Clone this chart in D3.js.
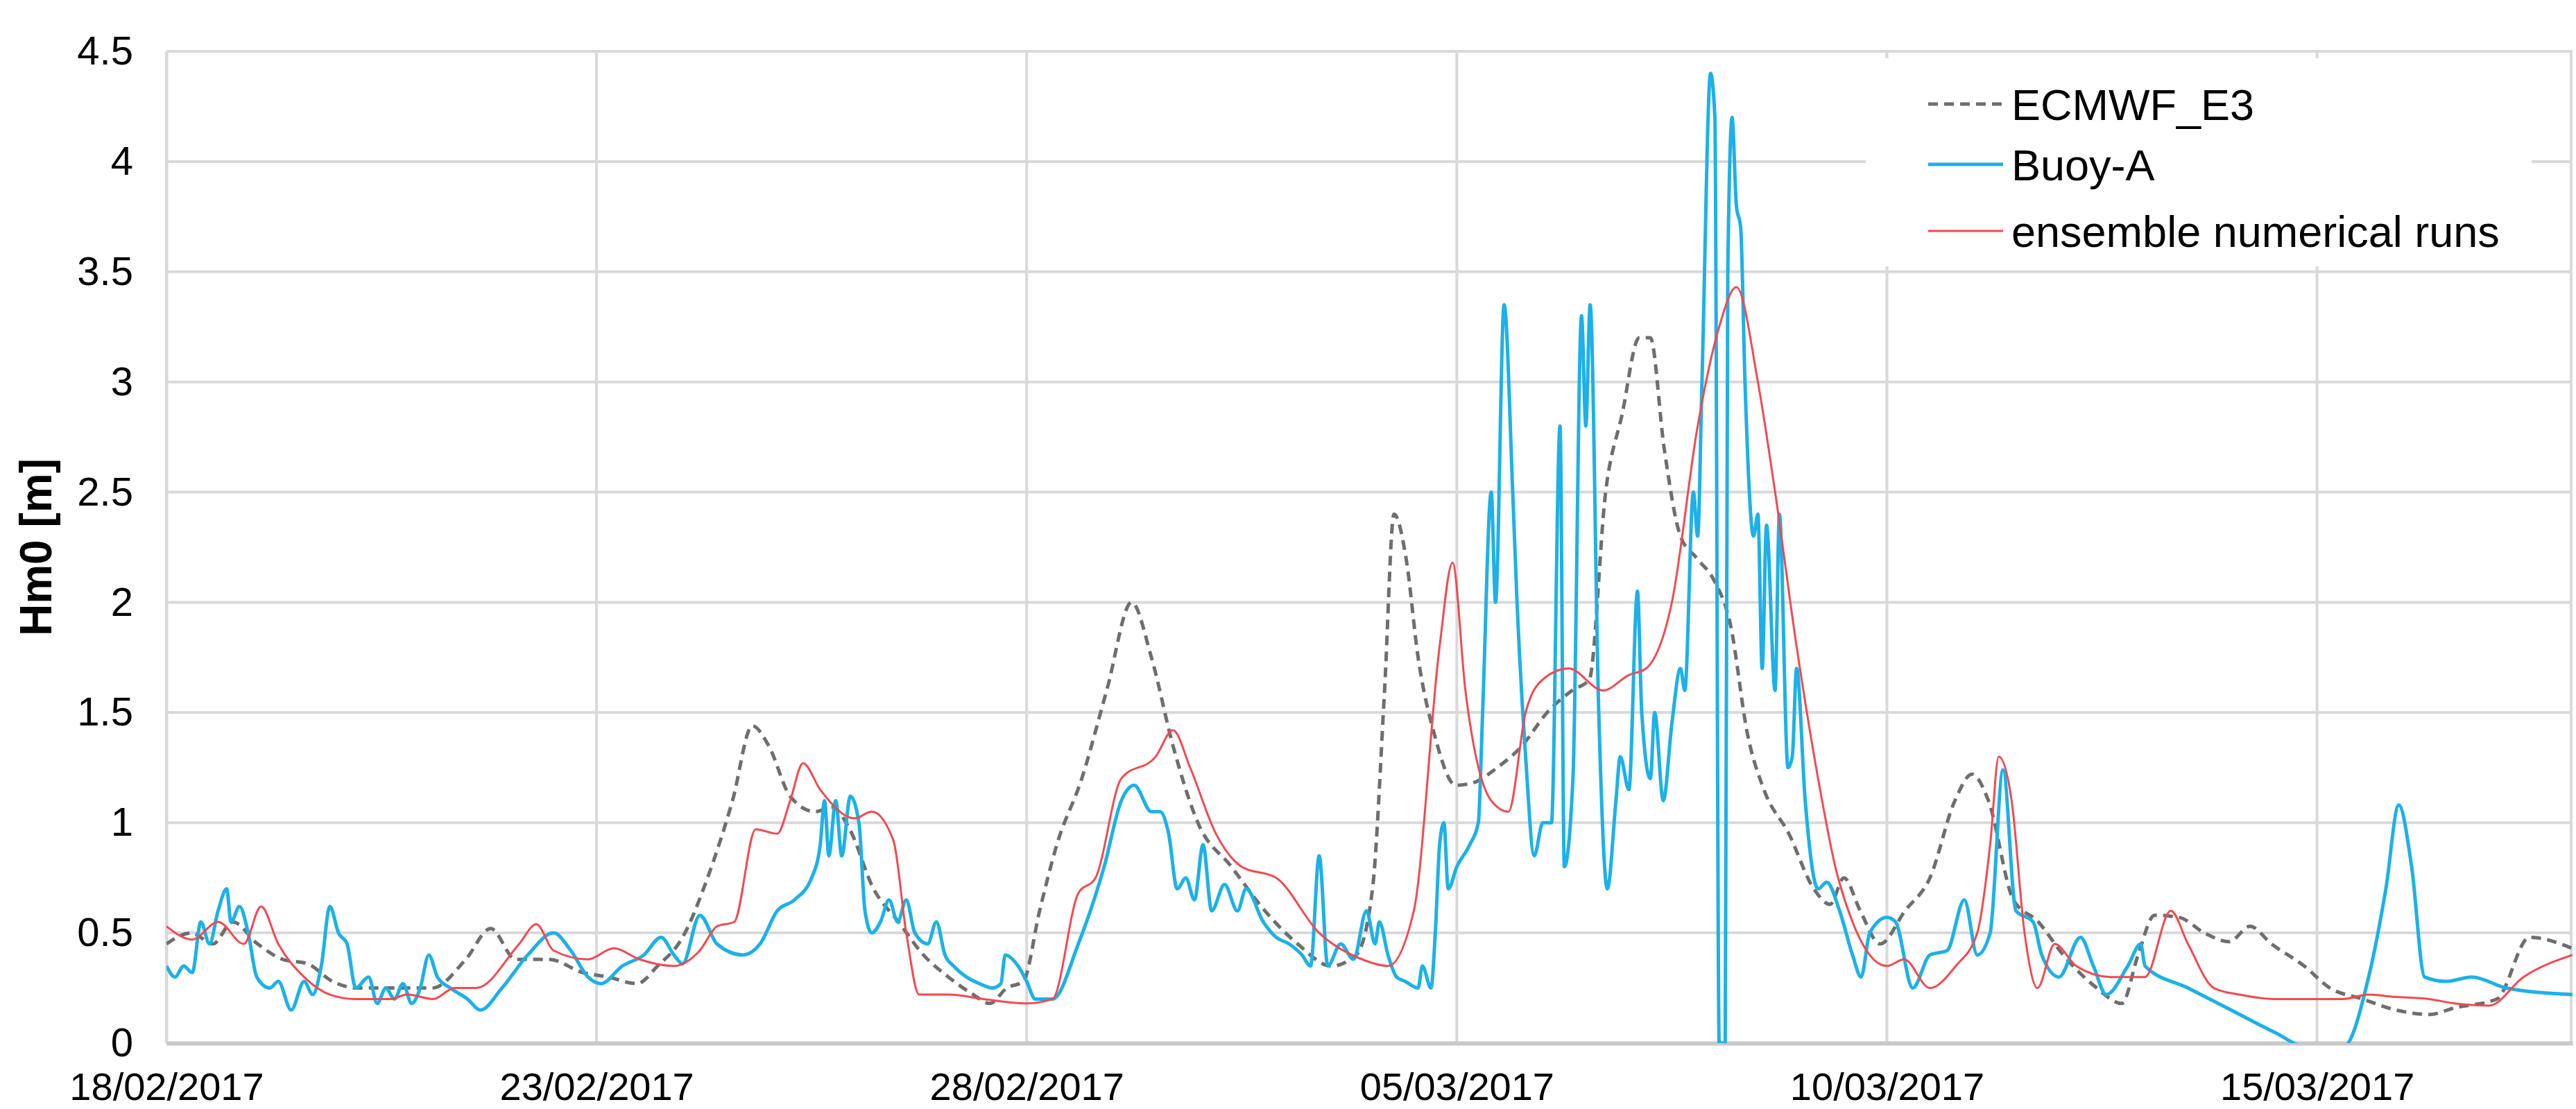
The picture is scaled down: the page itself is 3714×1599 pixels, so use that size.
<!DOCTYPE html>
<html>
<head>
<meta charset="utf-8">
<script src="https://cdn.jsdelivr.net/npm/d3@7"></script>
<style>
  body { margin: 0; background: #fff; }
  text { font-family: "Liberation Sans", Arial, sans-serif; }
</style>
</head>
<body>
<svg id="chart" width="3714" height="1599"></svg>
<script>
// days since 18/02/2017, Hm0 [m]
const ecmwfDays = [0,0.29,0.54,0.77,1.06,1.35,1.64,1.93,2.22,2.71,3.09,3.48,3.77,4.06,4.45,4.84,5.13,5.47,5.71,6.0,6.29,6.58,6.81,7.0,7.25,7.54,7.74,7.93,8.22,8.51,8.8,9.09,9.38,9.57,9.77,9.96,10.15,10.35,10.64,10.93,11.22,11.45,11.7,11.99,12.38,12.77,13.15,13.54,13.83,14.02,14.16,14.27,14.41,14.55,14.74,14.99,15.18,15.47,15.76,16.05,16.34,16.54,16.73,16.92,17.12,17.25,17.41,17.6,17.79,17.99,18.18,18.38,18.57,18.86,19.15,19.34,19.5,19.69,19.92,20.21,20.5,20.79,20.99,21.18,21.47,21.76,22.05,22.44,22.73,22.92,23.11,23.4,23.69,23.98,24.22,24.47,24.85,25.15,25.53,25.92,26.31,26.6,27.09,27.47,27.97];
const ecmwfHm0 = [0.45,0.5,0.45,0.55,0.45,0.38,0.36,0.28,0.25,0.25,0.25,0.38,0.52,0.38,0.38,0.32,0.3,0.27,0.35,0.48,0.75,1.1,1.44,1.35,1.12,1.05,1.07,0.98,0.7,0.55,0.4,0.3,0.22,0.18,0.25,0.28,0.6,0.9,1.2,1.6,2.0,1.75,1.35,1.0,0.8,0.6,0.45,0.35,0.4,0.7,1.6,2.4,2.2,1.75,1.4,1.17,1.18,1.25,1.35,1.5,1.6,1.65,2.5,2.85,3.2,3.2,2.7,2.3,2.2,2.1,1.9,1.4,1.15,0.95,0.7,0.63,0.75,0.6,0.45,0.6,0.75,1.1,1.22,1.1,0.65,0.55,0.4,0.25,0.18,0.4,0.58,0.57,0.5,0.46,0.53,0.45,0.35,0.25,0.2,0.15,0.13,0.16,0.2,0.48,0.43];

const buoyDays = [0,0.1,0.2,0.3,0.4,0.5,0.6,0.7,0.75,0.85,0.95,1.05,1.2,1.3,1.45,1.6,1.7,1.8,1.9,2.0,2.1,2.2,2.35,2.45,2.55,2.65,2.75,2.85,2.95,3.05,3.15,3.3,3.5,3.65,3.9,4.2,4.5,4.7,4.9,5.05,5.3,5.55,5.75,5.9,6.0,6.2,6.4,6.7,6.9,7.1,7.3,7.5,7.6,7.65,7.7,7.78,7.85,7.95,8.05,8.12,8.2,8.3,8.4,8.5,8.6,8.7,8.85,8.95,9.05,9.15,9.3,9.45,9.6,9.7,9.75,9.9,10.0,10.1,10.3,10.6,10.9,11.1,11.25,11.45,11.55,11.65,11.75,11.85,11.95,12.05,12.15,12.3,12.45,12.55,12.75,12.9,13.05,13.2,13.3,13.4,13.5,13.65,13.8,13.95,14.05,14.1,14.2,14.3,14.4,14.55,14.6,14.7,14.75,14.8,14.85,14.9,15.0,15.15,15.25,15.3,15.4,15.45,15.55,15.65,15.7,15.8,15.9,16.0,16.1,16.2,16.25,16.35,16.45,16.5,16.55,16.65,16.75,16.85,16.9,17.0,17.1,17.15,17.25,17.3,17.4,17.5,17.6,17.65,17.75,17.8,17.85,17.95,18.0,18.05,18.12,18.15,18.2,18.25,18.3,18.35,18.45,18.5,18.55,18.6,18.7,18.75,18.85,18.9,18.95,19.05,19.2,19.3,19.45,19.6,19.7,19.8,20.0,20.1,20.3,20.5,20.7,20.9,21.05,21.2,21.35,21.5,21.7,21.8,22.0,22.25,22.4,22.55,22.8,22.95,23.0,23.5,24.0,24.5,24.9,25.3,25.6,25.8,25.95,26.1,26.25,26.5,26.8,27.2,27.97];
const buoyHm0 = [0.35,0.3,0.35,0.32,0.55,0.45,0.6,0.7,0.55,0.62,0.5,0.3,0.25,0.28,0.15,0.28,0.22,0.35,0.62,0.5,0.45,0.25,0.3,0.18,0.25,0.2,0.27,0.18,0.25,0.4,0.3,0.25,0.2,0.15,0.25,0.4,0.5,0.42,0.3,0.27,0.35,0.4,0.48,0.4,0.36,0.58,0.45,0.4,0.45,0.6,0.65,0.75,0.9,1.1,0.85,1.1,0.85,1.12,1.0,0.6,0.5,0.55,0.65,0.55,0.65,0.5,0.45,0.55,0.4,0.35,0.3,0.27,0.25,0.27,0.4,0.35,0.28,0.2,0.2,0.45,0.8,1.1,1.17,1.05,1.05,0.95,0.7,0.75,0.65,0.9,0.6,0.72,0.6,0.7,0.55,0.48,0.45,0.4,0.35,0.85,0.35,0.45,0.38,0.6,0.45,0.55,0.4,0.3,0.28,0.25,0.35,0.25,0.5,0.9,1.0,0.7,0.8,0.9,1.0,1.5,2.5,2.0,3.35,2.5,2.0,1.3,0.85,1.0,1.0,2.8,0.8,1.2,3.3,2.8,3.35,1.5,0.7,1.1,1.3,1.15,2.05,1.5,1.2,1.5,1.1,1.45,1.7,1.6,2.5,2.3,3.0,4.4,4.2,0,0,3.5,4.2,3.8,3.7,3.0,2.3,2.4,1.7,2.35,1.6,2.4,1.25,1.3,1.7,1.1,0.7,0.73,0.6,0.4,0.3,0.5,0.57,0.55,0.25,0.4,0.42,0.65,0.4,0.5,1.24,0.6,0.55,0.4,0.3,0.48,0.35,0.22,0.35,0.45,0.35,0.25,0.15,0.05,-0.02,-0.02,0.3,0.7,1.08,0.8,0.3,0.28,0.3,0.25,0.22];

const ensDays = [0,0.3,0.6,0.9,1.1,1.3,1.6,1.9,2.2,2.6,2.8,3.1,3.35,3.6,4.1,4.3,4.5,4.9,5.2,5.5,5.9,6.2,6.4,6.6,6.85,7.1,7.25,7.4,7.6,8.0,8.2,8.45,8.6,8.75,9.1,9.5,10.0,10.3,10.6,10.8,11.1,11.5,11.7,11.9,12.2,12.5,12.9,13.4,13.9,14.2,14.5,14.8,14.95,15.1,15.4,15.6,15.8,16.0,16.3,16.7,17.0,17.2,17.5,17.8,18.05,18.25,18.5,18.7,18.95,19.2,19.4,19.6,20.0,20.2,20.5,20.8,21.05,21.2,21.3,21.45,21.6,21.75,21.95,22.2,22.6,23.0,23.3,23.5,23.8,24.1,24.5,25.0,25.3,25.6,25.9,26.3,26.6,27.0,27.4,27.97];
const ensHm0 = [0.53,0.47,0.55,0.45,0.62,0.45,0.3,0.22,0.2,0.2,0.22,0.2,0.25,0.25,0.45,0.54,0.42,0.38,0.43,0.38,0.35,0.42,0.53,0.55,0.97,0.95,1.1,1.27,1.15,1.02,1.05,0.92,0.5,0.22,0.22,0.2,0.18,0.2,0.68,0.75,1.2,1.3,1.42,1.25,0.95,0.8,0.75,0.5,0.38,0.35,0.6,1.8,2.18,1.6,1.1,1.05,1.5,1.65,1.7,1.6,1.67,1.7,2.0,2.8,3.25,3.43,3.0,2.5,1.8,1.2,0.8,0.55,0.35,0.38,0.25,0.35,0.5,0.9,1.3,1.1,0.5,0.25,0.45,0.35,0.3,0.3,0.6,0.45,0.25,0.22,0.2,0.2,0.2,0.22,0.21,0.2,0.18,0.17,0.3,0.4];

const yTicks = [0,0.5,1,1.5,2,2.5,3,3.5,4,4.5];
const dateTicks = ["18/02/2017","23/02/2017","28/02/2017","05/03/2017","10/03/2017","15/03/2017"];
const seriesNames = ["ECMWF_E3","Buoy-A","ensemble numerical runs"];

const m = {left: 240, right: 5, top: 74, bottom: 95};
const W = 3714, H = 1599;
const svg = d3.select('#chart');

const start = new Date(2017, 1, 18);
const toDate = d => new Date(start.getTime() + d * 86400000);
const x = d3.scaleTime()
    .domain([start, toDate(27.97)])
    .range([m.left, W - m.right]);
const y = d3.scaleLinear().domain([0, 4.5]).range([H - m.bottom, m.top]);

// grid
svg.append('g')
    .selectAll('line')
    .data(yTicks.slice(1))
    .enter()
    .append('line')
    .attr('x1', m.left).attr('x2', W - m.right)
    .attr('y1', d => y(d)).attr('y2', d => y(d))
    .attr('stroke', '#d9d9d9').attr('stroke-width', 4);

const tickDates = dateTicks.map(s => d3.timeParse('%d/%m/%Y')(s));
svg.append('g')
    .selectAll('line')
    .data(tickDates)
    .enter()
    .append('line')
    .attr('x1', d => x(d)).attr('x2', d => x(d))
    .attr('y1', m.top).attr('y2', H - m.bottom)
    .attr('stroke', '#d9d9d9').attr('stroke-width', 4);
svg.append('line')
    .attr('x1', W - m.right - 2).attr('x2', W - m.right - 2)
    .attr('y1', m.top).attr('y2', H - m.bottom)
    .attr('stroke', '#d9d9d9').attr('stroke-width', 4);

// axes
const yAxis = svg.append('g')
    .attr('transform', `translate(${m.left},0)`)
    .call(d3.axisLeft(y).tickValues(yTicks).tickSize(0).tickPadding(48).tickFormat(d => d));
yAxis.select('.domain').attr('stroke', '#d9d9d9').attr('stroke-width', 4);
yAxis.selectAll('text').attr('font-size', 58).attr('fill', '#000')
    .style('font-family', '"Liberation Sans", Arial, sans-serif');

const xAxis = svg.append('g')
    .attr('transform', `translate(0,${H - m.bottom})`)
    .call(d3.axisBottom(x).tickValues(tickDates).tickSize(0).tickPadding(42)
        .tickFormat(d3.timeFormat('%d/%m/%Y')));
xAxis.select('.domain').attr('stroke', '#c8c8c8').attr('stroke-width', 6);
xAxis.selectAll('text').attr('font-size', 56).attr('fill', '#000')
    .style('font-family', '"Liberation Sans", Arial, sans-serif');

svg.append('text')
    .attr('transform', `translate(74,${(m.top + H - m.bottom) / 2}) rotate(-90)`)
    .attr('text-anchor', 'middle')
    .attr('font-size', 64).attr('font-weight', 'bold')
    .text('Hm0 [m]');

// lines
svg.append('clipPath').attr('id', 'plot')
    .append('rect').attr('x', m.left).attr('y', m.top - 10)
    .attr('width', W - m.left - m.right).attr('height', H - m.top - m.bottom + 10);

let mkLine = function (days, vals, curve) {
    return d3.line()
        .x(i => x(toDate(days[i])))
        .y(i => y(vals[i]))
        .curve(curve)(d3.range(days.length));
}

const g = svg.append('g').attr('clip-path', 'url(#plot)');
g.append('path')
    .attr('d', mkLine(ecmwfDays, ecmwfHm0, d3.curveMonotoneX))
    .attr('fill', 'none').attr('stroke', '#6e6e6e')
    .attr('stroke-width', 5).attr('stroke-dasharray', '14,9');
g.append('path')
    .attr('d', mkLine(buoyDays, buoyHm0, d3.curveMonotoneX))
    .attr('fill', 'none').attr('stroke', '#1cb1e8').attr('stroke-width', 5);
g.append('path')
    .attr('d', mkLine(ensDays, ensHm0, d3.curveMonotoneX))
    .attr('fill', 'none').attr('stroke', '#f5484f').attr('stroke-width', 3);

// legend
const lg = svg.append('g');
lg.append('rect').attr('x', 2690).attr('y', 84).attr('width', 960).attr('height', 300).attr('fill', '#fff');
const styles = [
    {stroke: '#6e6e6e', w: 5, dash: '14,9'},
    {stroke: '#1cb1e8', w: 5, dash: null},
    {stroke: '#f5484f', w: 3, dash: null}
];
lg.selectAll('g.item')
    .data(seriesNames)
    .enter()
    .append('g')
    .attr('class', 'item')
    .attr('transform', (d, i) => `translate(2780,${[150, 237, 333][i]})`)
    .each(function (d, i) {
        const it = d3.select(this);
        it.append('line').attr('x1', 0).attr('x2', 108)
            .attr('stroke', styles[i].stroke).attr('stroke-width', styles[i].w)
            .attr('stroke-dasharray', styles[i].dash);
        it.append('text').attr('x', 120).attr('dy', '0.36em')
            .attr('font-size', 63).text(d);
    });
</script>
</body>
</html>
